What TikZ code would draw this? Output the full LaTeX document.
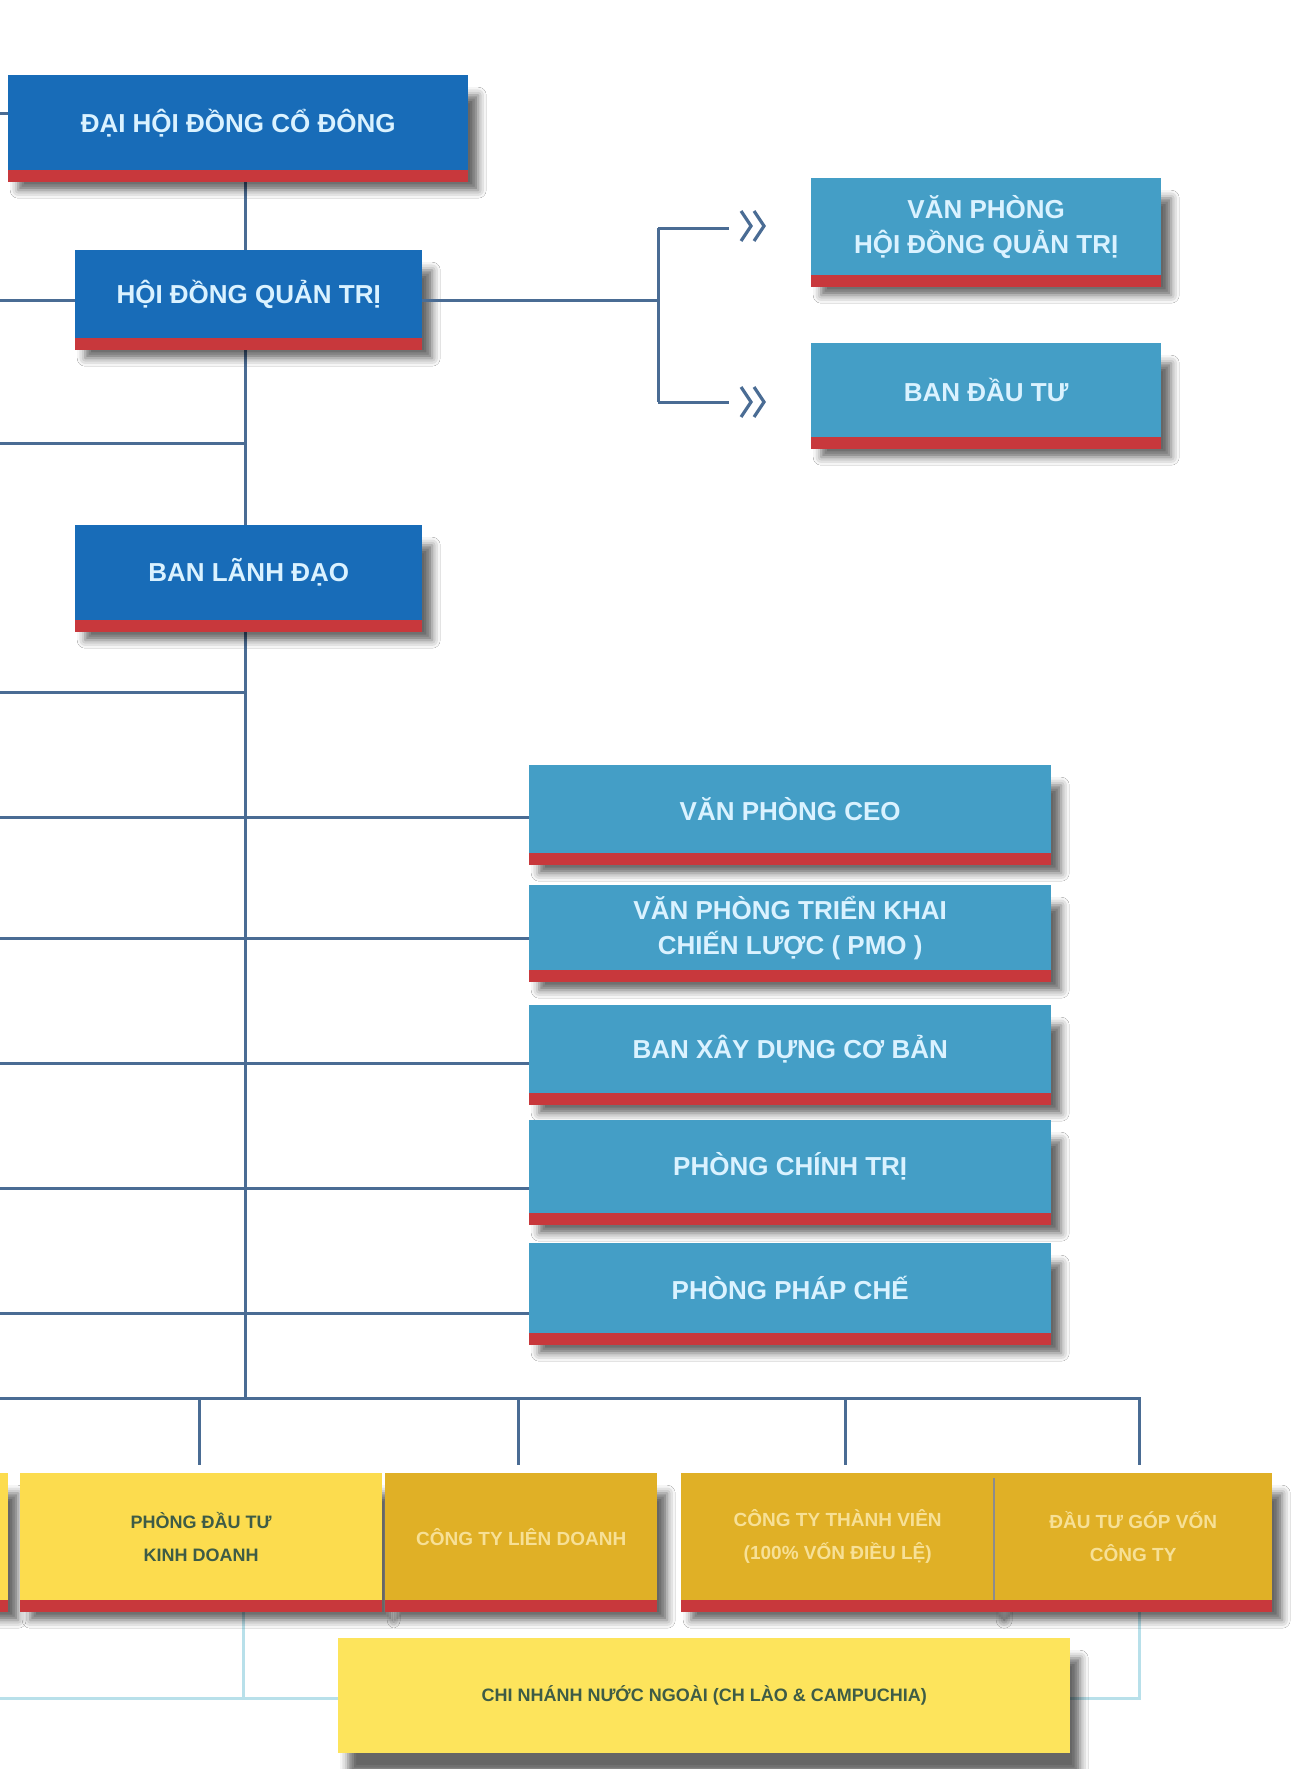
\documentclass[tikz,border=0pt]{standalone}
\usepackage{fontspec}
\setmainfont{Liberation Sans}
\usetikzlibrary{shadows.blur}
\definecolor{dblue}{RGB}{24,108,184}
\definecolor{lblue}{RGB}{68,158,198}
\definecolor{redc}{RGB}{200,56,60}
\definecolor{linec}{RGB}{74,108,148}
\definecolor{lightln}{RGB}{184,224,234}
\definecolor{ytext}{RGB}{218,242,255}
\definecolor{lyel}{RGB}{252,220,78}
\definecolor{goldc}{RGB}{224,176,38}
\definecolor{byel}{RGB}{253,228,92}
\definecolor{gtext}{RGB}{62,92,70}
\definecolor{goldtext}{RGB}{247,224,150}
\newcommand\redstripe[1]{\fill[redc] (#1.south west) rectangle ([yshift=-12pt]#1.south east);}
\begin{document}
\begin{tikzpicture}[x=1pt,y=-1pt,
  boxbase/.style={anchor=north west, inner sep=0pt, align=center,
    blur shadow={shadow xshift=10pt,shadow yshift=-20pt,shadow opacity=60,shadow blur radius=8pt}},
  bluebox/.style={boxbase, fill=dblue, text=ytext, font=\bfseries\fontsize{26}{35}\selectfont},
  tealbox/.style={boxbase, fill=lblue, text=ytext, font=\bfseries\fontsize{26}{35}\selectfont},
  yelbox/.style={boxbase, fill=lyel, text=gtext, font=\bfseries\fontsize{18}{33}\selectfont},
  goldbox/.style={boxbase, fill=goldc, text=goldtext, font=\bfseries\fontsize{19}{33}\selectfont},
  branchbox/.style={boxbase, fill=byel, text=gtext, font=\bfseries\fontsize{18}{22}\selectfont},
  conn/.style={draw=linec, line width=3pt},
  faint/.style={draw=lightln, line width=3pt},
  chev/.style={draw=linec, line width=3.2pt},
]
\fill[white] (0,0) rectangle (1302,1769);
\useasboundingbox (0,0) rectangle (1302,1769);
\begin{scope}
\clip (0,0) rectangle (1302,1769);

% free ends at the left edge
\coordinate (e1) at (0,113);
\coordinate (e2) at (0,300);
\coordinate (e3) at (0,443);
\coordinate (e4) at (0,692);
\coordinate (e5) at (0,817);
\coordinate (e6) at (0,938);
\coordinate (e7) at (0,1063);
\coordinate (e8) at (0,1188);
\coordinate (e9) at (0,1313);
\coordinate (e10) at (0,1398);
\coordinate (e11) at (0,1698);
% junctions
\coordinate (t3) at (245,443);
\coordinate (t4) at (245,692);
\coordinate (tb) at (245,1398);
\coordinate (bt) at (658,228);
\coordinate (bm) at (658,300);
\coordinate (bb) at (658,402);
\coordinate (ct) at (729,228);
\coordinate (cb) at (729,402);
\coordinate (br) at (1139,1398);
\coordinate (d1) at (199,1398);
\coordinate (d2) at (518,1398);
\coordinate (d3) at (845,1398);
\coordinate (f1) at (243,1612);
\coordinate (f2) at (243,1698);
\coordinate (f3) at (1139,1612);
\coordinate (f4) at (1139,1698);

% ---------- connectors (behind boxes) ----------
\draw[conn] (245,170) -- (tb);
\draw[conn] (e3) -- (t3);
\draw[conn] (e4) -- (t4);
\draw[conn] (e10) -- (br) -- (1139,1465);
\draw[conn] (d1) -- (199,1465);
\draw[conn] (d2) -- (518,1465);
\draw[conn] (d3) -- (845,1465);
\draw[conn] (bt) -- (bb);
\draw[conn] (bt) -- (ct);
\draw[conn] (bb) -- (cb);
\draw[faint] (f1) -- (f2);
\draw[faint] (e11) -- (338,1698);
\draw[faint] (f3) -- (f4) -- (1070,1698);

% chevrons
\draw[chev] (741,211) -- (751,226) -- (741,241);
\draw[chev] (754,211) -- (764,226) -- (754,241);
\draw[chev] (741,387) -- (751,402) -- (741,417);
\draw[chev] (754,387) -- (764,402) -- (754,417);

% ---------- top blue boxes ----------
\node[bluebox, minimum width=460pt, minimum height=95pt] (dhd) at (8,75) {ĐẠI HỘI ĐỒNG CỔ ĐÔNG};
\redstripe{dhd}
\node[bluebox, minimum width=347pt, minimum height=88pt] (hdqt) at (75,250) {HỘI ĐỒNG QUẢN TRỊ};
\redstripe{hdqt}
\node[bluebox, minimum width=347pt, minimum height=95pt] (bld) at (75,525) {BAN LÃNH ĐẠO};
\redstripe{bld}

% ---------- right teal boxes ----------
\node[tealbox, minimum width=350pt, minimum height=97pt] (vphd) at (811,178) {VĂN PHÒNG\\HỘI ĐỒNG QUẢN TRỊ};
\redstripe{vphd}
\node[tealbox, minimum width=350pt, minimum height=94pt] (bdt) at (811,343) {BAN ĐẦU TƯ};
\redstripe{bdt}

\node[tealbox, minimum width=522pt, minimum height=88pt] (ceo) at (529,765) {VĂN PHÒNG CEO};
\redstripe{ceo}
\node[tealbox, minimum width=522pt, minimum height=85pt] (pmo) at (529,885) {VĂN PHÒNG TRIỂN KHAI\\CHIẾN LƯỢC ( PMO )};
\redstripe{pmo}
\node[tealbox, minimum width=522pt, minimum height=88pt] (xdcb) at (529,1005) {BAN XÂY DỰNG CƠ BẢN};
\redstripe{xdcb}
\node[tealbox, minimum width=522pt, minimum height=93pt] (pct) at (529,1120) {PHÒNG CHÍNH TRỊ};
\redstripe{pct}
\node[tealbox, minimum width=522pt, minimum height=90pt] (ppc) at (529,1243) {PHÒNG PHÁP CHẾ};
\redstripe{ppc}

% ---------- bottom row ----------
\node[yelbox, minimum width=300pt, minimum height=127pt] (prev) at (-292,1473) {};
\redstripe{prev}
\node[yelbox, minimum width=362pt, minimum height=127pt] (pdt) at (20,1473) {PHÒNG ĐẦU TƯ\\KINH DOANH};
\redstripe{pdt}
\node[goldbox, minimum width=272pt, minimum height=127pt] (ld) at (385,1473) {CÔNG TY LIÊN DOANH};
\redstripe{ld}
\node[goldbox, minimum width=313pt, minimum height=127pt] (tv) at (681,1473) {CÔNG TY THÀNH VIÊN\\(100\% VỐN ĐIỀU LỆ)};
\node[goldbox, minimum width=278pt, minimum height=127pt] (gv) at (994,1473) {ĐẦU TƯ GÓP VỐN\\CÔNG TY};
\redstripe{tv}
\redstripe{gv}
\draw[line width=2pt, draw=black!45] (994,1478) -- (994,1600);

\node[branchbox, minimum width=732pt, minimum height=115pt] (cn) at (338,1638) {CHI NHÁNH NƯỚC NGOÀI (CH LÀO \& CAMPUCHIA)};

% ---------- connectors to boxes ----------
\draw[conn] (e1) -- (dhd.west |- e1);
\draw[conn] (e2) -- (hdqt.west |- e2);
\draw[conn] (hdqt.east |- bm) -- (bm);
\draw[conn] (e5) -- (ceo.west |- e5);
\draw[conn] (e6) -- (pmo.west |- e6);
\draw[conn] (e7) -- (xdcb.west |- e7);
\draw[conn] (e8) -- (pct.west |- e8);
\draw[conn] (e9) -- (ppc.west |- e9);
\end{scope}
\end{tikzpicture}
\end{document}
